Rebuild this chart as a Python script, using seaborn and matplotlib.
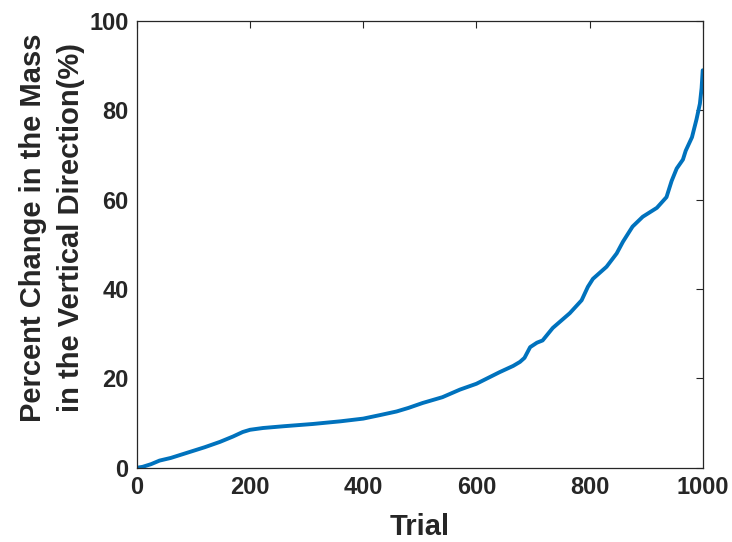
import matplotlib
matplotlib.use("Agg")
import matplotlib.pyplot as plt
import seaborn as sns
import pandas as pd

# Sorted percent change per trial (read at representative trials)
trial = [0, 10, 25, 40, 60, 80, 100, 120, 147, 170, 187, 200, 223, 260, 311,
         360, 400, 430, 459, 480, 505, 540, 571, 600, 641, 665, 677, 685, 695,
         707, 717, 735, 765, 786, 797, 806, 830, 848, 859, 876, 894, 919, 936,
         945, 954, 965, 970, 981, 989, 995, 998, 1000]
pct_change = [0, 0.2, 0.8, 1.6, 2.2, 3.0, 3.8, 4.6, 5.8, 7.0, 8.0, 8.5, 8.9,
              9.3, 9.8, 10.4, 11.0, 11.8, 12.6, 13.4, 14.5, 15.8, 17.5, 18.8,
              21.4, 22.8, 23.7, 24.6, 27.0, 28.0, 28.5, 31.3, 34.6, 37.5, 40.5,
              42.3, 45.0, 48.0, 50.6, 54.0, 56.2, 58.2, 60.6, 64.2, 67.0, 69.0,
              71.0, 74.0, 78.0, 81.5, 85.0, 89.0]
x_ticks = [0, 200, 400, 600, 800, 1000]
y_ticks = [0, 20, 40, 60, 80, 100]

df = pd.DataFrame({"Trial": trial, "Change": pct_change})

sns.set_style("white")
plt.rcParams["font.family"] = ["Liberation Sans", "DejaVu Sans"]
plt.rcParams["font.weight"] = "bold"

fig = plt.figure(figsize=(7.32, 5.42), dpi=100)
ax = fig.add_axes([0.187, 0.137, 0.773, 0.824])

sns.lineplot(data=df, x="Trial", y="Change", ax=ax, color="#0072BD",
             linewidth=2.8, estimator=None, sort=False)

ax.set_xlim(0, 1000)
ax.set_ylim(0, 100)
ax.set_xticks(x_ticks)
ax.set_yticks(y_ticks)
ax.set_xticklabels([str(v) for v in x_ticks], fontsize=17, fontweight="bold",
                   color="#262626")
ax.set_yticklabels([str(v) for v in y_ticks], fontsize=17, fontweight="bold",
                   color="#262626")
ax.tick_params(direction="in", length=5, width=0.8, color="#262626",
               top=True, right=True, pad=6)
for sp in ax.spines.values():
    sp.set_visible(True)
    sp.set_color("#262626")
    sp.set_linewidth(0.9)

ax.set_xlabel("Trial", fontsize=21, fontweight="bold", color="#262626",
              labelpad=10)
ax.set_ylabel("Percent Change in the Mass\nin the Vertical Direction(%)",
              fontsize=21, fontweight="bold", color="#262626",
              linespacing=1.45)
ax.yaxis.set_label_coords(-0.092, 0.537)

fig.savefig("out.png", dpi=100)
